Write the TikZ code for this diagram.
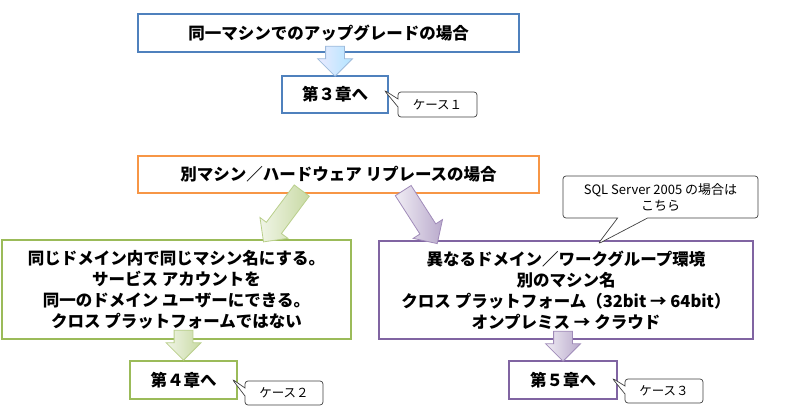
\documentclass[tikz,border=0pt]{standalone}
\usepackage{fontspec}
\setmainfont{Noto Sans CJK JP}
\usetikzlibrary{positioning, shapes.arrows, shapes.callouts, calc}

\definecolor{boxblue}{HTML}{4F81BD}
\definecolor{boxorange}{HTML}{F79646}
\definecolor{boxgreen}{HTML}{9BBB59}
\definecolor{boxpurple}{HTML}{8064A2}

\tikzset{
  box/.style = {draw, line width=2.5pt, fill=white, inner sep=2pt, align=center,
                font=\fontsize{16.5}{21}\selectfont\bfseries},
  callbox/.style = {rectangle callout, draw=black!75, line width=0.7pt, rounded corners=3pt,
                fill=white, align=center, inner sep=2pt, font=\fontsize{12.5}{15}\selectfont},
  bigarrow/.style 2 args = {single arrow, draw=#2, line width=0.8pt,
                inner xsep=0pt, inner ysep=9pt, single arrow head extend=8pt,
                left color=#1, right color=#2}
}

\begin{document}
\begin{tikzpicture}[x=1pt, y=-1pt]
    \useasboundingbox (0,0) rectangle (800,411);

    \node[box, draw=boxblue, minimum width=381pt, minimum height=38pt] (upgrade) at (328.5,33) {同一マシンでのアップグレードの場合};
    \node[box, draw=boxblue, minimum width=106pt, minimum height=37pt] (ch3) at (335,94.5) {第３章へ};

    \node[box, draw=boxorange, minimum width=401pt, minimum height=37pt] (replace) at (338.5,174.5) {別マシン／ハードウェア リプレースの場合};

    \node[box, draw=boxgreen, minimum width=349pt, minimum height=99pt] (same) at (176.5,289.5)
      {同じドメイン内で同じマシン名にする。\\サービス アカウントを\\同一のドメイン ユーザーにできる。\\クロス プラットフォームではない};
    \node[box, draw=boxgreen, minimum width=107pt, minimum height=38pt] (ch4) at (183.5,380) {第４章へ};

    \node[box, draw=boxpurple, minimum width=374pt, minimum height=98pt] (diff) at (566,290)
      {異なるドメイン／ワークグループ環境\\別のマシン名\\クロス プラットフォーム（32bit → 64bit）\\オンプレミス → クラウド};
    \node[box, draw=boxpurple, minimum width=108pt, minimum height=38pt] (ch5) at (563,380) {第５章へ};

    % block arrows
    \node[bigarrow={blue!8}{blue!35!cyan!30}, draw=boxblue!55, rotate=-90, minimum height=30pt, anchor=tip] (a1) at ([yshift=-2pt]ch3.north) {};
    \node[bigarrow={boxgreen!15}{boxgreen!55}, draw=boxgreen!70, rotate=-126.7, minimum height=64pt, anchor=tail] (a2) at ([xshift=-36.5pt, yshift=4pt]replace.south) {};
    \node[bigarrow={boxpurple!12}{boxpurple!55}, draw=boxpurple!75, rotate=-57.3, minimum height=63pt, anchor=tail] (a3) at ([xshift=64.5pt, yshift=4pt]replace.south) {};
    \node[bigarrow={boxgreen!15}{boxgreen!55}, draw=boxgreen!70, rotate=-90, minimum height=30pt, anchor=tip] (a4) at ([yshift=-1pt]ch4.north) {};
    \node[bigarrow={boxpurple!12}{boxpurple!55}, draw=boxpurple!75, rotate=-90, minimum height=30pt, anchor=tip] (a5) at ([yshift=-2pt]ch5.north) {};

    % callouts
    \node[callbox, minimum width=79pt, minimum height=25pt, callout pointer width=8pt,
          callout absolute pointer={(384,90)}] (case1) at (437.5,104.5) {ケース１};
    \node[callbox, minimum width=78pt, minimum height=24pt, callout pointer width=8pt,
          callout absolute pointer={(232,379)}] (case2) at (284,393) {ケース２};
    \node[callbox, minimum width=78pt, minimum height=24pt, callout pointer width=8pt,
          callout absolute pointer={(612,378)}] (case3) at (664,391) {ケース３};
    \node[callbox, minimum width=195pt, minimum height=42pt, callout pointer width=30pt,
          font=\fontsize{13}{16}\selectfont,
          callout absolute pointer={(598,244)}] (sql) at (660.5,197) {SQL Server 2005 の場合は\\こちら};

\end{tikzpicture}
\end{document}
